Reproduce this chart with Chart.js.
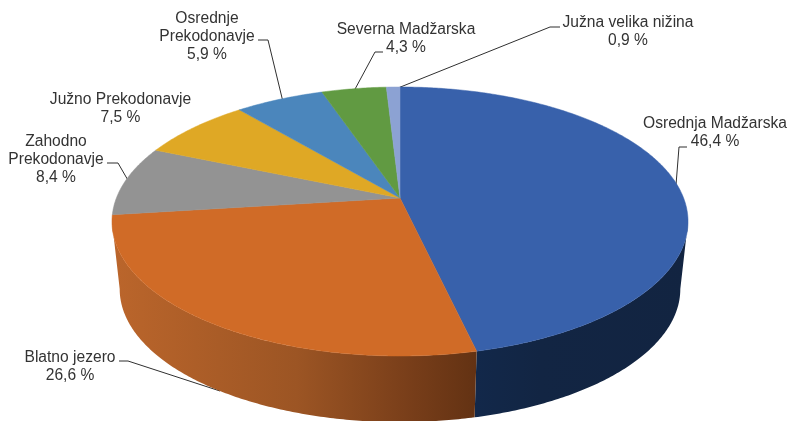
<!DOCTYPE html>
<html>
<head>
<meta charset="utf-8">
<script src="https://cdn.jsdelivr.net/npm/chart.js@4"></script>
<style>
html, body { margin: 0; padding: 0; background: #fff; }
canvas { display: block; }
</style>
</head>
<body>
<canvas id="myChart" width="788" height="421"></canvas>
<script>
const categories = ['Osrednja Madžarska', 'Blatno jezero', 'Zahodno Prekodonavje', 'Južno Prekodonavje', 'Osrednje Prekodonavje', 'Severna Madžarska', 'Južna velika nižina'];
const shares = [46.4, 26.6, 8.4, 7.5, 5.9, 4.3, 0.9];
const topColors = ['#3861AB', '#D06B27', '#939393', '#DFA825', '#4B86BC', '#619A42', '#8CA2D3'];

// label placement: centre x, first baseline, text lines, leader line
const labelLayout = [
    { x: 715, y: 128, lines: ['Osrednja Madžarska'], leader: [[687, 147], [679, 147], [676, 185]] },
    { x: 70, y: 362, lines: ['Blatno jezero'], leader: [[119, 361], [128, 361], [220, 391]] },
    { x: 56, y: 146, lines: ['Zahodno', 'Prekodonavje'], leader: [[107, 163], [118, 163], [129, 182]] },
    { x: 120.5, y: 104, lines: ['Južno Prekodonavje'], leader: null },
    { x: 207, y: 23, lines: ['Osrednje', 'Prekodonavje'], leader: [[258, 40], [268, 40], [283, 102]] },
    { x: 406, y: 34, lines: ['Severna Madžarska'], leader: [[383, 52], [375, 52], [354, 91]] },
    { x: 628, y: 27, lines: ['Južna velika nižina'], leader: [[560, 27], [550, 27], [393, 90]] }
];

// perspective of the pie, the tilted disc is a projected circle
const tilt = 0.1747;
const topDisc = { cx: 400, cy: 198, a: 283.6, b: 130.4 };
const bottomDisc = { cx: 400, cy: 265.8, a: 276, b: 129 };

function project(disc, angle) {
    let w = 1 - tilt * Math.sin(angle);
    return [disc.cx + disc.a * Math.cos(angle) / w, disc.cy + disc.b * Math.sin(angle) / w];
}

function arcPoints(disc, from, to) {
    let pts = [];
    let n = Math.max(2, Math.ceil((to - from) / 0.01));
    for (let i = 0; i <= n; i++) {
        pts.push(project(disc, from + (to - from) * i / n));
    }
    return pts;
}

function tracePath(ctx, pts) {
    ctx.beginPath();
    pts.forEach((p, i) => i ? ctx.lineTo(p[0], p[1]) : ctx.moveTo(p[0], p[1]));
    ctx.closePath();
}

function wallFill(ctx, index) {
    if (index === 0) {
        let g = ctx.createLinearGradient(476, 0, 690, 0);
        g.addColorStop(0, '#12284A');
        g.addColorStop(0.3, '#122543');
        g.addColorStop(1, '#122441');
        return g;
    }
    let g = ctx.createLinearGradient(118, 0, 476, 0);
    g.addColorStop(0, '#BA652B');
    g.addColorStop(0.5, '#9C5524');
    g.addColorStop(0.8, '#7A3F1A');
    g.addColorStop(1, '#633213');
    return g;
}

const pie3d = {
    id: 'pie3d',
    beforeDatasetsDraw(chart) {
        let ctx = chart.ctx;
        let arcs = chart.getDatasetMeta(0).data;
        let wallFrom = Math.asin(tilt);
        let wallTo = Math.PI - wallFrom;
        ctx.save();
        // leader lines go under the pie so they stop at its edge
        ctx.strokeStyle = '#2F2F2F';
        ctx.lineWidth = 1;
        labelLayout.forEach(item => {
            if (!item.leader) return;
            ctx.beginPath();
            item.leader.forEach((p, k) => k ? ctx.lineTo(p[0], p[1]) : ctx.moveTo(p[0], p[1]));
            ctx.stroke();
        });
        // side walls, only the front part of the rim shows
        arcs.forEach((arc, i) => {
            let from = Math.max(arc.startAngle, wallFrom);
            let to = Math.min(arc.endAngle, wallTo);
            if (to <= from) return;
            let pts = arcPoints(topDisc, from, to).concat(arcPoints(bottomDisc, from, to).reverse());
            tracePath(ctx, pts);
            ctx.fillStyle = wallFill(ctx, i);
            ctx.fill();
        });
        // top slices
        arcs.forEach((arc, i) => {
            let pts = [[topDisc.cx, topDisc.cy]].concat(arcPoints(topDisc, arc.startAngle, arc.endAngle));
            tracePath(ctx, pts);
            ctx.fillStyle = topColors[i];
            ctx.strokeStyle = topColors[i];
            ctx.lineWidth = 0.5;
            ctx.fill();
            ctx.stroke();
        });
        ctx.restore();
        return false;
    },
    afterDraw(chart) {
        let ctx = chart.ctx;
        ctx.save();
        ctx.fillStyle = '#333333';
        ctx.font = '15.6px "Liberation Sans", Arial, sans-serif';
        ctx.textAlign = 'center';
        ctx.textBaseline = 'alphabetic';
        labelLayout.forEach((item, i) => {
            let rows = item.lines.concat([shares[i].toFixed(1).replace('.', ',') + ' %']);
            rows.forEach((row, r) => ctx.fillText(row, item.x, item.y + r * 18));
        });
        ctx.restore();
    }
};

new Chart(document.getElementById('myChart').getContext('2d'), {
    type: 'pie',
    data: {
        labels: categories,
        datasets: [{ data: shares, backgroundColor: topColors, borderWidth: 0 }]
    },
    options: {
        responsive: false,
        animation: false,
        plugins: {
            legend: { display: false },
            tooltip: { enabled: false }
        }
    },
    plugins: [pie3d]
});
</script>
</body>
</html>
